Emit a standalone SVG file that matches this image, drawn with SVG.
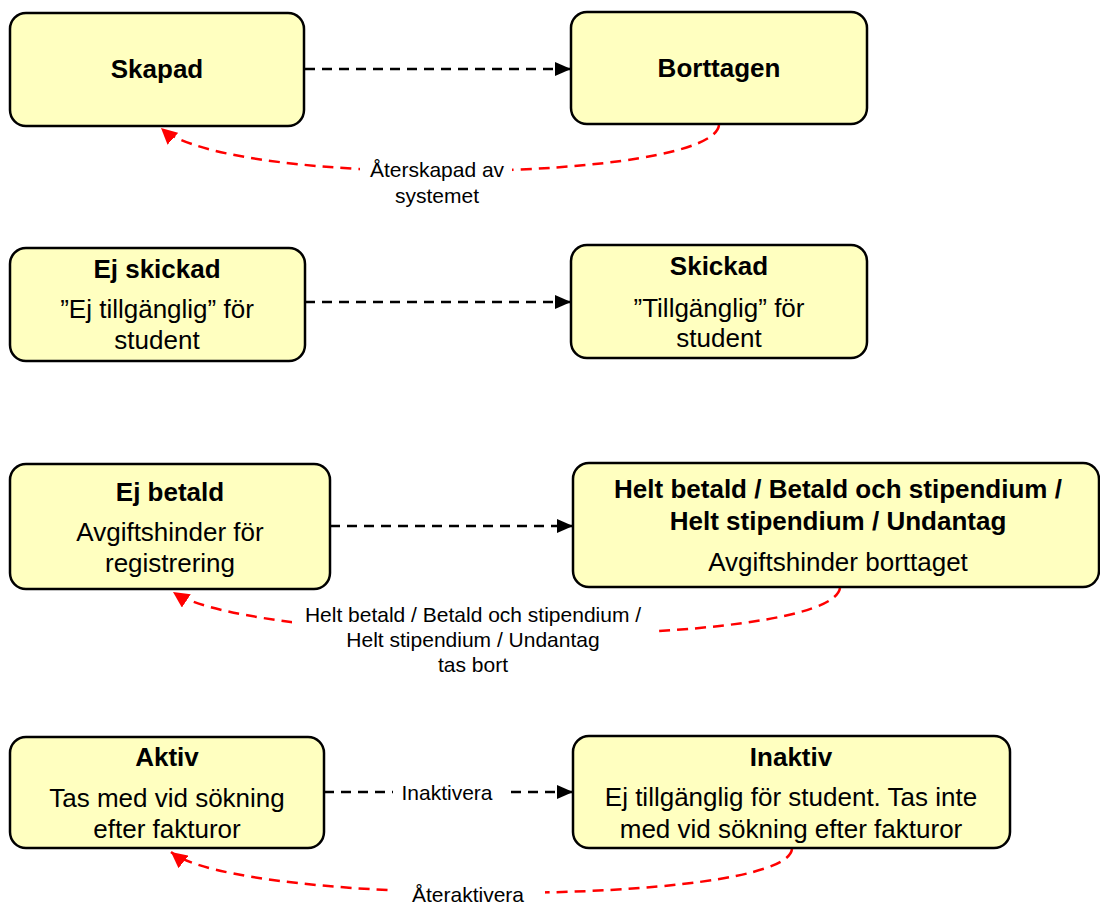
<svg xmlns="http://www.w3.org/2000/svg" width="1100" height="906" viewBox="0 0 1100 906">
<style>
.box{fill:#ffffc0;stroke:#000;stroke-width:2.5}
.t{font-family:"Liberation Sans",Arial,sans-serif;font-size:26px;fill:#000;text-anchor:middle}
.b{font-weight:bold}
.lbl{font-family:"Liberation Sans",Arial,sans-serif;font-size:21px;fill:#000;text-anchor:middle}
.blk{fill:none;stroke:#000;stroke-width:2.5;stroke-dasharray:10 7}
.red{fill:none;stroke:#ff0000;stroke-width:2.5;stroke-dasharray:11 7}
.bg{fill:#fff}
</style>
<defs>
<marker id="ab" markerUnits="userSpaceOnUse" markerWidth="16" markerHeight="14" refX="16" refY="7" orient="auto"><path d="M0,0 L16,7 L0,14 z" fill="#000"/></marker>
<marker id="ar" markerUnits="userSpaceOnUse" markerWidth="16" markerHeight="16" refX="16" refY="8" orient="auto"><path d="M0,0 L16,8 L0,16 z" fill="#ff0000"/></marker>
</defs>
<g id="connectors">
<path class="blk" d="M305,69 L571,69" marker-end="url(#ab)"/>
<path class="red" d="M719,125 C713,182 230,190 161,128" marker-end="url(#ar)"/>
<path class="blk" d="M305,302 L571,302" marker-end="url(#ab)"/>
<path class="blk" d="M330,526 L573,526" marker-end="url(#ab)"/>
<path class="red" d="M840,588 C830,650 260,650 173,592" marker-end="url(#ar)"/>
<path class="blk" d="M324,792 L573,792" marker-end="url(#ab)"/>
<path class="red" d="M792,849 C785,907 240,907 171,852" marker-end="url(#ar)"/>
<rect class="bg" x="360" y="155" width="152" height="30"/>
<text class="lbl" x="437" y="177">Återskapad av</text>
<text class="lbl" x="437" y="203">systemet</text>
<rect class="bg" x="292" y="603" width="362" height="45"/>
<text class="lbl" x="473" y="622">Helt betald / Betald och stipendium /</text>
<text class="lbl" x="473" y="647">Helt stipendium / Undantag</text>
<text class="lbl" x="473" y="672">tas bort</text>
<rect class="bg" x="393" y="780" width="115" height="24"/>
<text class="lbl" x="447" y="800">Inaktivera</text>
<rect class="bg" x="391" y="878" width="154" height="28"/>
<text class="lbl" x="468" y="902">Återaktivera</text>
</g>
<g id="skapad">
<rect class="box" x="10" y="13" width="294" height="113" rx="16"/>
<text class="t b" x="157" y="78">Skapad</text>
</g>
<g id="borttagen">
<rect class="box" x="571" y="12" width="296" height="112" rx="16"/>
<text class="t b" x="719" y="77">Borttagen</text>
</g>
<g id="ej-skickad">
<rect class="box" x="10" y="248" width="295" height="113" rx="16"/>
<text class="t b" x="157" y="278">Ej skickad</text>
<text class="t" x="157" y="318">”Ej tillgänglig” för</text>
<text class="t" x="157" y="349">student</text>
</g>
<g id="skickad">
<rect class="box" x="571" y="245" width="296" height="113" rx="16"/>
<text class="t b" x="719" y="275">Skickad</text>
<text class="t" x="719" y="317">”Tillgänglig” för</text>
<text class="t" x="719" y="347">student</text>
</g>
<g id="ej-betald">
<rect class="box" x="10" y="464" width="320" height="125" rx="16"/>
<text class="t b" x="170" y="501">Ej betald</text>
<text class="t" x="170" y="541">Avgiftshinder för</text>
<text class="t" x="170" y="572">registrering</text>
</g>
<g id="helt-betald">
<rect class="box" x="573" y="463" width="526" height="124" rx="16"/>
<text class="t b" x="838" y="498">Helt betald / Betald och stipendium /</text>
<text class="t b" x="838" y="530">Helt stipendium / Undantag</text>
<text class="t" x="838" y="571">Avgiftshinder borttaget</text>
</g>
<g id="aktiv">
<rect class="box" x="10" y="737" width="314" height="111" rx="16"/>
<text class="t b" x="167" y="766">Aktiv</text>
<text class="t" x="167" y="807">Tas med vid sökning</text>
<text class="t" x="167" y="838">efter fakturor</text>
</g>
<g id="inaktiv">
<rect class="box" x="573" y="736" width="437" height="112" rx="16"/>
<text class="t b" x="791" y="766">Inaktiv</text>
<text class="t" x="791" y="806">Ej tillgänglig för student. Tas inte</text>
<text class="t" x="791" y="838">med vid sökning efter fakturor</text>
</g>
</svg>
